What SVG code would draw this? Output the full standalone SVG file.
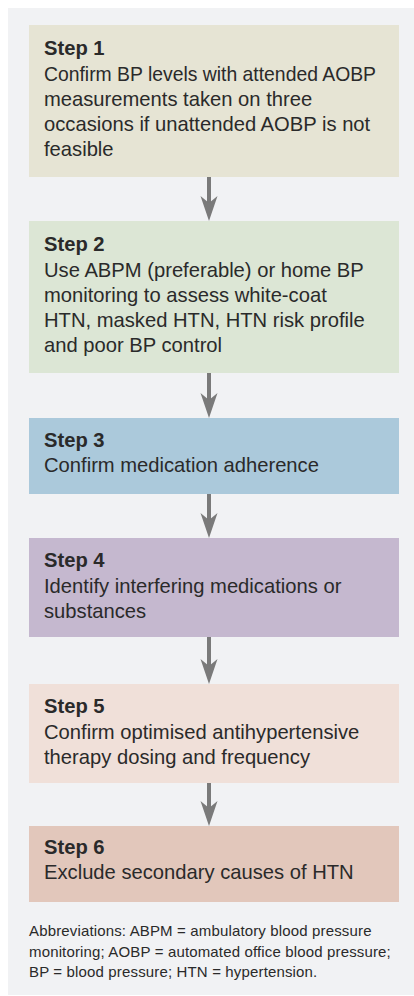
<svg xmlns="http://www.w3.org/2000/svg" xmlns:xlink="http://www.w3.org/1999/xlink" width="414" height="996" viewBox="0 0 414 996">
<style>
.t{font-family:"Liberation Sans",Arial,sans-serif;font-size:20.2px;fill:#2a2a2a}
.h{font-weight:bold}
.ab{font-family:"Liberation Sans",Arial,sans-serif;font-size:15px;letter-spacing:0.15px;fill:#2a2a2a}
.ln{stroke:#7a7a7a;stroke-width:4;fill:none}
.ah{fill:#7a7a7a}
</style>
<defs>
<path id="ah" d="M0,0 L-8.5,-25 L0,-18 L8.5,-25 Z"/>
</defs>
<rect x="8" y="8" width="406" height="987" fill="#f1f2f4"/>
<g id="connectors">
<line class="ln" x1="209" y1="177" x2="209" y2="204"/><use class="ah" xlink:href="#ah" x="209" y="221"/>
<line class="ln" x1="209" y1="373" x2="209" y2="401"/><use class="ah" xlink:href="#ah" x="209" y="418"/>
<line class="ln" x1="209" y1="494" x2="209" y2="521"/><use class="ah" xlink:href="#ah" x="209" y="538"/>
<line class="ln" x1="209" y1="637" x2="209" y2="667"/><use class="ah" xlink:href="#ah" x="209" y="684"/>
<line class="ln" x1="209" y1="783" x2="209" y2="809"/><use class="ah" xlink:href="#ah" x="209" y="826"/>
</g>
<g id="step1">
<rect x="29" y="25" width="370" height="152" fill="#e6e4d4"/>
<text class="t h" x="44" y="55">Step 1</text>
<text class="t" x="44" y="81" textLength="332" lengthAdjust="spacingAndGlyphs">Confirm BP levels with attended AOBP</text>
<text class="t" x="44" y="106">measurements taken on three</text>
<text class="t" x="44" y="130.5">occasions if unattended AOBP is not</text>
<text class="t" x="44" y="155.5">feasible</text>
</g>
<g id="step2">
<rect x="29" y="221" width="370" height="152" fill="#dce6d5"/>
<text class="t h" x="44" y="251">Step 2</text>
<text class="t" x="44" y="276.7">Use ABPM (preferable) or home BP</text>
<text class="t" x="44" y="301.7">monitoring to assess white-coat</text>
<text class="t" x="44" y="326.7">HTN, masked HTN, HTN risk profile</text>
<text class="t" x="44" y="351.7">and poor BP control</text>
</g>
<g id="step3">
<rect x="29" y="418" width="370" height="76" fill="#abc9db"/>
<text class="t h" x="44" y="446.7">Step 3</text>
<text class="t" x="44" y="472.3">Confirm medication adherence</text>
</g>
<g id="step4">
<rect x="29" y="538" width="370" height="99" fill="#c5b8cf"/>
<text class="t h" x="44" y="566.7">Step 4</text>
<text class="t" x="44" y="593.3">Identify interfering medications or</text>
<text class="t" x="44" y="618.3">substances</text>
</g>
<g id="step5">
<rect x="29" y="684" width="370" height="99" fill="#f0e0d9"/>
<text class="t h" x="44" y="712.7">Step 5</text>
<text class="t" x="44" y="739.3">Confirm optimised antihypertensive</text>
<text class="t" x="44" y="764.3">therapy dosing and frequency</text>
</g>
<g id="step6">
<rect x="29" y="826" width="370" height="76" fill="#e2c7bb"/>
<text class="t h" x="44" y="854">Step 6</text>
<text class="t" x="44" y="879.3">Exclude secondary causes of HTN</text>
</g>
<g id="abbreviations">
<text class="ab" x="29" y="935.7">Abbreviations: ABPM = ambulatory blood pressure</text>
<text class="ab" x="29" y="956.7">monitoring; AOBP = automated office blood pressure;</text>
<text class="ab" x="29" y="977.3">BP = blood pressure; HTN = hypertension.</text>
</g>
</svg>
